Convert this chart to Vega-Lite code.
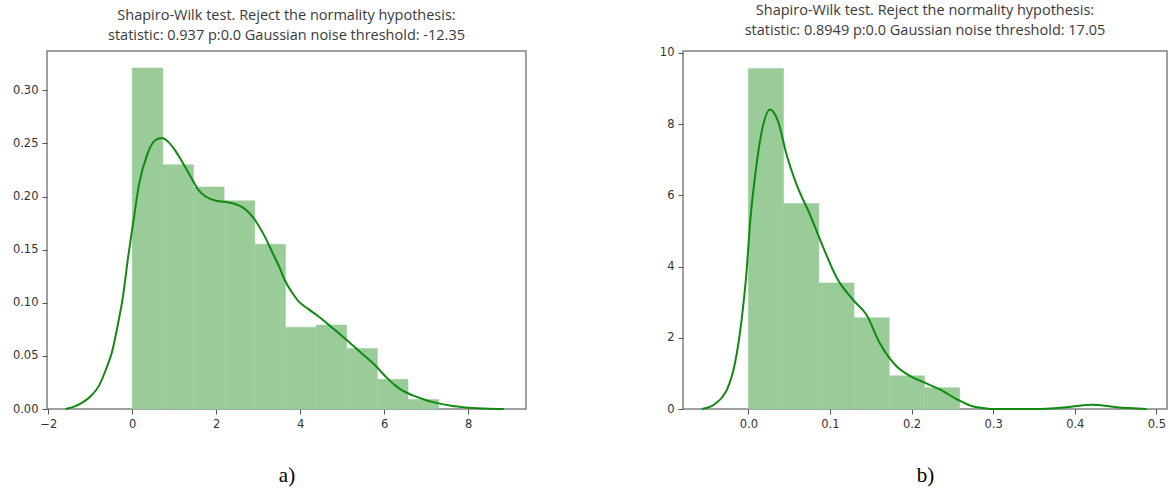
{
  "$schema": "https://vega.github.io/schema/vega-lite/v6.json",
  "background": "white",
  "padding": {"left": 11, "top": 2, "right": 0, "bottom": 0},
  "spacing": 131,
  "config": {
    "view": {"stroke": "#808080", "strokeWidth": 1.5},
    "axis": {
      "domain": false, "grid": false, "tickColor": "#555", "tickSize": 5, "tickWidth": 1,
      "labelColor": "#333", "labelFont": "DejaVu Sans", "labelFontSize": 11.5, "labelPadding": 4,
      "titleFont": "Liberation Serif", "titleFontSize": 21, "titleFontWeight": "normal", "titleColor": "#000"
    },
    "title": {"font": "Open Sans", "fontSize": 14.5, "fontWeight": "normal", "color": "#3a3a3a", "lineHeight": 20, "anchor": "middle", "offset": 8}
  },
  "datasets": {
    "histA": [
      {"bin_start": 0.0, "bin_end": 0.73, "density": 0.321},
      {"bin_start": 0.73, "bin_end": 1.46, "density": 0.230},
      {"bin_start": 1.46, "bin_end": 2.19, "density": 0.209},
      {"bin_start": 2.19, "bin_end": 2.92, "density": 0.196},
      {"bin_start": 2.92, "bin_end": 3.65, "density": 0.155},
      {"bin_start": 3.65, "bin_end": 4.38, "density": 0.077},
      {"bin_start": 4.38, "bin_end": 5.11, "density": 0.079},
      {"bin_start": 5.11, "bin_end": 5.84, "density": 0.057},
      {"bin_start": 5.84, "bin_end": 6.57, "density": 0.028},
      {"bin_start": 6.57, "bin_end": 7.30, "density": 0.009}
    ],
    "kdeA": [
      {"x": -1.59, "y": 0.0}, {"x": -1.4, "y": 0.002}, {"x": -1.19, "y": 0.006}, {"x": -0.99, "y": 0.012},
      {"x": -0.79, "y": 0.022}, {"x": -0.6, "y": 0.040}, {"x": -0.48, "y": 0.054}, {"x": -0.35, "y": 0.078},
      {"x": -0.24, "y": 0.101}, {"x": -0.08, "y": 0.148}, {"x": 0.04, "y": 0.18}, {"x": 0.16, "y": 0.211},
      {"x": 0.36, "y": 0.240}, {"x": 0.55, "y": 0.253}, {"x": 0.71, "y": 0.255}, {"x": 0.87, "y": 0.251},
      {"x": 1.03, "y": 0.243}, {"x": 1.23, "y": 0.230}, {"x": 1.43, "y": 0.216}, {"x": 1.6, "y": 0.205},
      {"x": 1.75, "y": 0.200}, {"x": 2.0, "y": 0.196}, {"x": 2.22, "y": 0.195}, {"x": 2.45, "y": 0.193},
      {"x": 2.62, "y": 0.190}, {"x": 2.8, "y": 0.184}, {"x": 2.94, "y": 0.177}, {"x": 3.15, "y": 0.163},
      {"x": 3.33, "y": 0.148}, {"x": 3.5, "y": 0.134}, {"x": 3.65, "y": 0.120}, {"x": 3.82, "y": 0.109},
      {"x": 3.97, "y": 0.101}, {"x": 4.2, "y": 0.094}, {"x": 4.44, "y": 0.087}, {"x": 4.75, "y": 0.077},
      {"x": 5.08, "y": 0.066}, {"x": 5.45, "y": 0.053}, {"x": 5.79, "y": 0.041}, {"x": 6.05, "y": 0.030},
      {"x": 6.27, "y": 0.022}, {"x": 6.45, "y": 0.017}, {"x": 6.67, "y": 0.013}, {"x": 6.95, "y": 0.009},
      {"x": 7.22, "y": 0.006}, {"x": 7.6, "y": 0.003}, {"x": 7.94, "y": 0.0015}, {"x": 8.4, "y": 0.0005},
      {"x": 8.85, "y": 0.0}
    ],
    "histB": [
      {"bin_start": 0.0, "bin_end": 0.0432, "density": 9.56},
      {"bin_start": 0.0432, "bin_end": 0.0864, "density": 5.77},
      {"bin_start": 0.0864, "bin_end": 0.1296, "density": 3.54},
      {"bin_start": 0.1296, "bin_end": 0.1728, "density": 2.56},
      {"bin_start": 0.1728, "bin_end": 0.216, "density": 0.93},
      {"bin_start": 0.216, "bin_end": 0.259, "density": 0.60}
    ],
    "kdeB": [
      {"x": -0.057, "y": 0.0}, {"x": -0.045, "y": 0.08}, {"x": -0.0387, "y": 0.18}, {"x": -0.032, "y": 0.33},
      {"x": -0.026, "y": 0.55}, {"x": -0.0163, "y": 1.29}, {"x": -0.0082, "y": 2.5}, {"x": -0.002, "y": 3.89},
      {"x": 0.002, "y": 5.18}, {"x": 0.008, "y": 6.48}, {"x": 0.0164, "y": 7.78}, {"x": 0.0266, "y": 8.41},
      {"x": 0.0367, "y": 8.06}, {"x": 0.047, "y": 7.13}, {"x": 0.0592, "y": 6.30}, {"x": 0.0755, "y": 5.46},
      {"x": 0.0918, "y": 4.54}, {"x": 0.108, "y": 3.70}, {"x": 0.1285, "y": 3.06}, {"x": 0.145, "y": 2.64},
      {"x": 0.161, "y": 1.85}, {"x": 0.1816, "y": 1.2}, {"x": 0.198, "y": 0.93}, {"x": 0.216, "y": 0.74},
      {"x": 0.2346, "y": 0.55}, {"x": 0.255, "y": 0.28}, {"x": 0.2755, "y": 0.07}, {"x": 0.29, "y": 0.02},
      {"x": 0.30, "y": 0.0}, {"x": 0.35, "y": 0.0}, {"x": 0.39, "y": 0.05}, {"x": 0.422, "y": 0.12},
      {"x": 0.451, "y": 0.05}, {"x": 0.488, "y": 0.0}
    ]
  },
  "hconcat": [
    {
      "width": 479, "height": 358,
      "title": {"text": ["Shapiro-Wilk test. Reject the normality hypothesis:", "statistic: 0.937 p:0.0 Gaussian noise threshold: -12.35"], "frame": "group"},
      "layer": [
        {
          "data": {"name": "histA"},
          "mark": {"type": "bar", "color": "#99cc99", "opacity": 1, "stroke": "#99cc99", "strokeWidth": 0.5},
          "encoding": {
            "x": {"field": "bin_start", "type": "quantitative",
                  "scale": {"domain": [-2.03, 9.38], "nice": false, "zero": false},
                  "axis": {"values": [-2, 0, 2, 4, 6, 8], "title": "a)", "titlePadding": 35}},
            "x2": {"field": "bin_end"},
            "y": {"field": "density", "type": "quantitative",
                  "scale": {"domain": [0, 0.337], "nice": false},
                  "axis": {"values": [0, 0.05, 0.1, 0.15, 0.2, 0.25, 0.3], "format": ".2f", "title": null}},
            "y2": {"datum": 0}
          }
        },
        {
          "data": {"name": "kdeA"},
          "mark": {"type": "line", "color": "#108a10", "strokeWidth": 2, "interpolate": "monotone"},
          "encoding": {
            "x": {"field": "x", "type": "quantitative"},
            "y": {"field": "y", "type": "quantitative"}
          }
        }
      ]
    },
    {
      "width": 484, "height": 358,
      "title": {"text": ["Shapiro-Wilk test. Reject the normality hypothesis:", "statistic: 0.8949 p:0.0 Gaussian noise threshold: 17.05"], "frame": "group"},
      "layer": [
        {
          "data": {"name": "histB"},
          "mark": {"type": "bar", "color": "#99cc99", "opacity": 1, "stroke": "#99cc99", "strokeWidth": 0.5},
          "encoding": {
            "x": {"field": "bin_start", "type": "quantitative",
                  "scale": {"domain": [-0.08, 0.513], "nice": false, "zero": false},
                  "axis": {"values": [0, 0.1, 0.2, 0.3, 0.4, 0.5], "format": ".1f", "title": "b)", "titlePadding": 35}},
            "x2": {"field": "bin_end"},
            "y": {"field": "density", "type": "quantitative",
                  "scale": {"domain": [0, 10.05], "nice": false},
                  "axis": {"values": [0, 2, 4, 6, 8, 10], "format": "d", "title": null}},
            "y2": {"datum": 0}
          }
        },
        {
          "data": {"name": "kdeB"},
          "mark": {"type": "line", "color": "#108a10", "strokeWidth": 2, "interpolate": "monotone"},
          "encoding": {
            "x": {"field": "x", "type": "quantitative"},
            "y": {"field": "y", "type": "quantitative"}
          }
        }
      ]
    }
  ]
}
